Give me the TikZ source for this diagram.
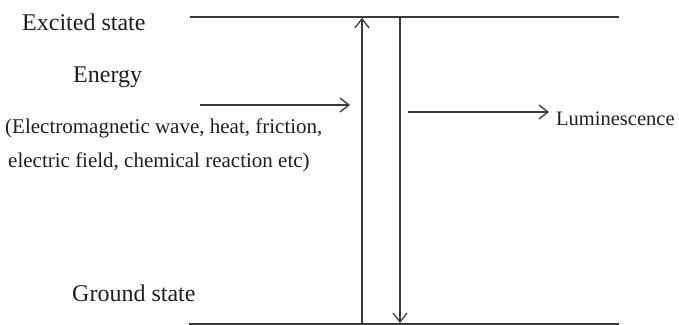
\documentclass[tikz,border=0pt]{standalone}
\usepackage{fontspec}
\setmainfont{Liberation Serif}
\usetikzlibrary{arrows.meta}
\definecolor{ink}{HTML}{1E1E1E}
\definecolor{rule}{HTML}{3A3A3A}
\tikzset{
  level/.style={draw=rule, line width=1.5pt},
  trans/.style={draw=rule, line width=1.4pt, -{Straight Barb[length=9pt,width=14pt,line width=1.3pt]}},
  biglabel/.style={anchor=base west, inner sep=0pt, text=ink, font=\fontsize{24}{28}\selectfont},
  smalllabel/.style={anchor=base west, inner sep=0pt, text=ink, font=\fontsize{21}{25}\selectfont},
}
\begin{document}
\begin{tikzpicture}[x=1pt, y=-1pt]
  \useasboundingbox (0,0) rectangle (679,324);
  % energy levels
  \coordinate (exL) at (190,17);
  \coordinate (exR) at (619,17);
  \coordinate (grL) at (189,323.8);
  \coordinate (grR) at (619,323.8);
  \draw[level] (exL) -- (exR);
  \draw[level] (grL) -- (grR);
  % excitation and emission transitions
  \coordinate (upB) at (362,324);
  \coordinate (upT) at (362,17.8);
  \coordinate (dnT) at (400,17);
  \coordinate (dnB) at (400,323);
  \draw[trans] (upB) -- (upT);
  \draw[trans] (dnT) -- (dnB);
  % incoming energy and outgoing light
  \coordinate (inA) at (200,105);
  \coordinate (inB) at (350,105);
  \coordinate (outA) at (408,112);
  \coordinate (outB) at (549,112);
  \draw[trans] (inA) -- (inB);
  \draw[trans] (outA) -- (outB);
  % labels
  \node[biglabel] (excited) at (22,30) {Excited state};
  \node[biglabel] (energy) at (73,82) {Energy};
  \node[smalllabel] (src1) at (5,133) {(Electromagnetic wave, heat, friction,};
  \node[smalllabel] (src2) at (8,167) {electric field, chemical reaction etc)};
  \node[biglabel] (ground) at (72,301) {Ground state};
  \node[smalllabel, font=\fontsize{20.5}{24}\selectfont] (lum) at (556,125) {Luminescence};
\end{tikzpicture}
\end{document}
